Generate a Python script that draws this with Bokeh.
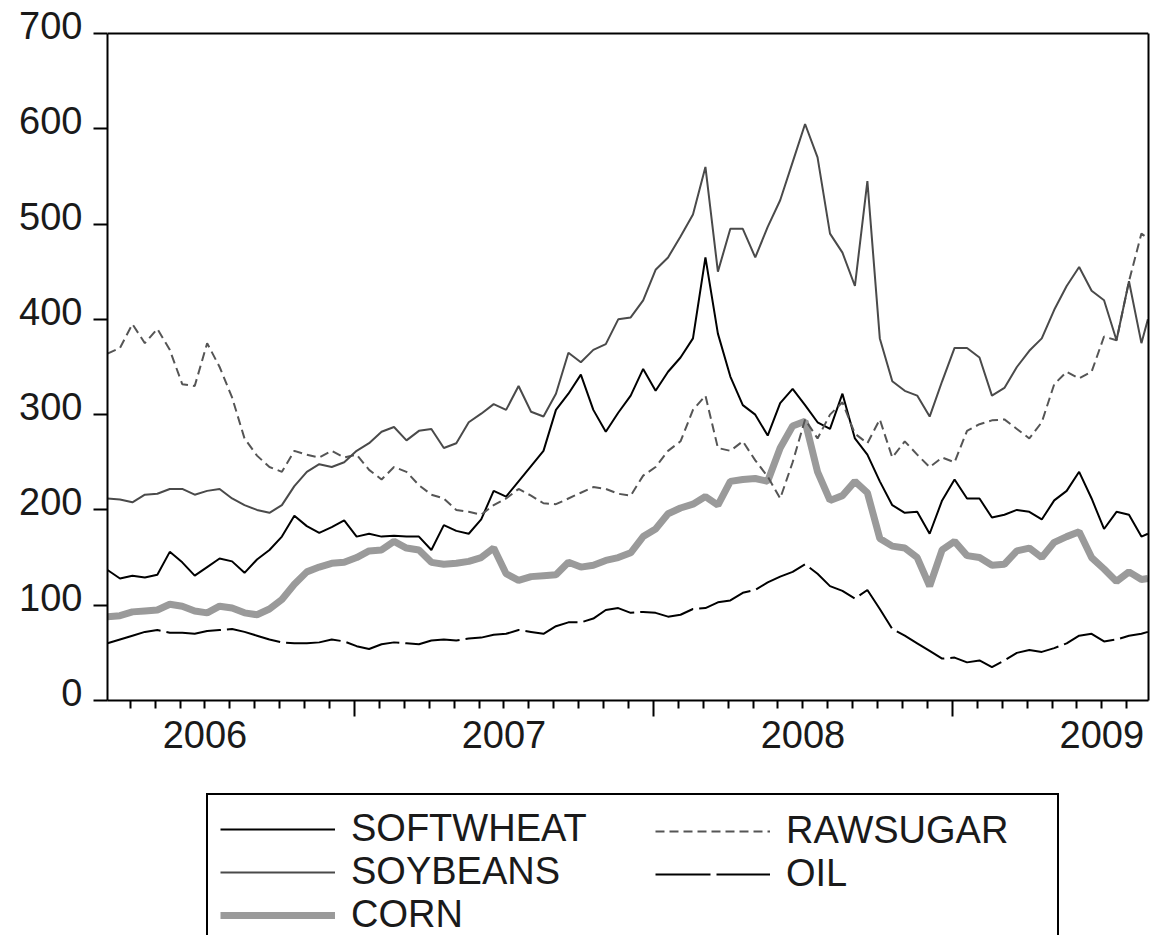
from bokeh.plotting import figure
from bokeh.layouts import column
from bokeh.models import Range1d, LinearAxis, FixedTicker, Legend, LegendItem, Span
from bokeh.embed import file_html
from bokeh.resources import INLINE

# ---------------- data (semi-monthly samples) ----------------
dates = [round(2006.174 + i / 24, 4) for i in range(84)] + [2009.654]

softwheat = [137, 128, 131, 129, 132, 156, 145, 131, 140, 149, 146, 134, 148, 158, 172, 194, 183, 176, 182, 189, 172, 175,
             172, 173, 172, 172, 158, 184, 178, 175, 190, 220, 214, 230, 246, 262, 305, 322, 342, 305, 282, 302, 320,
             348, 325, 345, 360, 380, 465, 385, 340, 310, 300, 278, 312, 327, 310, 292, 285, 322, 275, 258, 230, 205,
             197, 198, 175, 210, 232, 212, 212, 192, 195, 200, 198, 190, 210, 220, 240, 212, 180, 198, 195, 172, 175]

rawsugar = [364, 370, 395, 375, 390, 368, 332, 330, 375, 350, 318, 275, 257, 245, 240, 262, 258, 255, 262, 255, 258, 242,
            232, 245, 240, 226, 216, 212, 200, 198, 195, 205, 212, 222, 215, 207, 206, 212, 218, 224, 222, 217, 215,
            236, 245, 262, 272, 305, 320, 265, 262, 272, 252, 235, 212, 250, 295, 275, 300, 313, 280, 270, 295, 255,
            272, 258, 245, 255, 250, 283, 290, 294, 295, 285, 275, 292, 332, 345, 338, 345, 382, 378, 440, 490, 485]

soybeans = [212, 211, 208, 216, 217, 222, 222, 216, 220, 222, 212, 205, 200, 197, 205, 225, 240, 248, 245, 250, 262, 270,
            282, 287, 273, 283, 285, 265, 270, 292, 301, 311, 305, 330, 303, 298, 322, 365, 355, 368, 374, 400, 402,
            420, 452, 465, 487, 510, 560, 450, 495, 495, 465, 497, 525, 565, 605, 570, 490, 470, 435, 545, 380, 335,
            325, 320, 298, 335, 370, 370, 360, 320, 328, 350, 367, 380, 410, 435, 455, 430, 420, 378, 440, 375, 400]

oil = [60, 64, 68, 72, 74, 71, 71, 70, 73, 74, 75, 72, 68, 64, 61, 60, 60, 61, 64, 62, 57, 54,
       59, 61, 60, 59, 63, 64, 63, 65, 66, 69, 70, 74, 72, 70, 78, 82, 82, 86, 95, 97, 92,
       93, 92, 88, 90, 96, 97, 103, 105, 113, 116, 124, 130, 135, 143, 133, 120, 115, 107, 116, 96, 75,
       68, 60, 52, 44, 45, 40, 42, 35, 42, 50, 53, 51, 55, 60, 68, 70, 62, 64, 68, 70, 72]

corn = [88, 89, 93, 94, 95, 101, 99, 94, 92, 99, 97, 92, 90, 96, 106, 122, 135, 140, 144, 145, 150, 157,
        158, 167, 160, 158, 145, 143, 144, 146, 150, 160, 133, 126, 130, 131, 132, 145, 140, 142, 147, 150, 155,
        172, 180, 196, 202, 206, 214, 205, 230, 232, 233, 230, 265, 288, 293, 240, 210, 215, 230, 218, 170, 162,
        160, 150, 120, 158, 167, 152, 150, 142, 143, 157, 160, 150, 166, 172, 177, 150, 138, 125, 135, 127, 128]

y_ticks = [0, 100, 200, 300, 400, 500, 600, 700]
y_labels = ["0", "100", "200", "300", "400", "500", "600", "700"]
year_ticks = [2007, 2008, 2009]
month_ticks = [round(2006 + m / 12, 4) for m in range(3, 44) if m % 12 != 0]
year_label_pos = [2006.5, 2007.5, 2008.5, 2009.5]
year_labels = ["2006", "2007", "2008", "2009"]

FONT = "Liberation Sans"
FS = "38px"
TXT = "#1a1a1a"

# ---------------- main chart ----------------
# The frame reaches a little above the 700 line so the raised tick labels have room;
# the visible box is drawn by the axes (bounded to 0..700) and a span at 700.
Y_TOP = 712.59
p = figure(width=1154, height=770, output_backend="svg", toolbar_location=None,
           x_range=Range1d(2006.174, 2009.656), y_range=Range1d(0, Y_TOP),
           x_axis_type=None, y_axis_type=None,
           min_border_left=107, min_border_top=21, min_border_right=6, min_border_bottom=70)
p.background_fill_color = "white"
p.border_fill_color = "white"
p.outline_line_color = None
p.xgrid.visible = False
p.ygrid.visible = False

yaxis = LinearAxis(ticker=FixedTicker(ticks=y_ticks, minor_ticks=[]), bounds=(0, 700),
                   axis_line_color="black", axis_line_width=2,
                   major_tick_line_color="black", major_tick_line_width=2,
                   major_tick_out=14, major_tick_in=0,
                   minor_tick_line_color=None,
                   major_label_text_font_size="1px", major_label_text_color=None,
                   major_label_standoff=0)
p.add_layout(yaxis, "left")

SHIFT = 8.4  # value units (~8 px): tick labels sit slightly above their ticks, as in the original
p.extra_y_ranges = {"lab": Range1d(-SHIFT, Y_TOP - SHIFT)}
ylab = LinearAxis(y_range_name="lab", ticker=FixedTicker(ticks=y_ticks, minor_ticks=[]),
                  major_label_overrides=dict(zip(y_ticks, y_labels)),
                  axis_line_color=None, major_tick_line_color=None, minor_tick_line_color=None,
                  major_tick_out=0, major_tick_in=0, minor_tick_out=0, minor_tick_in=0,
                  major_label_text_font=FONT, major_label_text_font_size=FS,
                  major_label_text_color=TXT, major_label_standoff=11)
p.add_layout(ylab, "left")

right_edge = LinearAxis(ticker=FixedTicker(ticks=[], minor_ticks=[]), bounds=(0, 700),
                        axis_line_color="black", axis_line_width=2,
                        major_tick_line_color=None, minor_tick_line_color=None,
                        major_tick_out=0, major_tick_in=0, minor_tick_out=0, minor_tick_in=0,
                        major_label_text_font_size="1px", major_label_text_color=None,
                        major_label_standoff=0)
p.add_layout(right_edge, "right")
p.add_layout(Span(location=700, dimension="width", line_color="black", line_width=2))

# year boundaries (long ticks) + monthly minor ticks, labels hidden
xaxis = LinearAxis(ticker=FixedTicker(ticks=year_ticks, minor_ticks=month_ticks),
                   axis_line_color="black", axis_line_width=2,
                   major_tick_line_color="black", major_tick_line_width=2,
                   major_tick_out=16, major_tick_in=0,
                   minor_tick_line_color="black", minor_tick_line_width=2,
                   minor_tick_out=8, minor_tick_in=0,
                   major_label_text_font_size="1px", major_label_text_color=None,
                   major_label_standoff=0)
p.add_layout(xaxis, "below")

# year labels centred on each year
xlab = LinearAxis(ticker=FixedTicker(ticks=year_label_pos, minor_ticks=[]),
                  major_label_overrides=dict(zip(year_label_pos, year_labels)),
                  axis_line_color=None, major_tick_line_color=None, minor_tick_line_color=None,
                  major_tick_out=0, major_tick_in=0, minor_tick_out=0, minor_tick_in=0,
                  major_label_text_font=FONT, major_label_text_font_size=FS,
                  major_label_text_color=TXT, major_label_standoff=4)
p.add_layout(xlab, "below")

sty_corn = dict(line_color="#9a9a9a", line_width=7)
sty_wheat = dict(line_color="black", line_width=2)
sty_sugar = dict(line_color="#555555", line_width=2, line_dash="9 5")
sty_soy = dict(line_color="#4a4a4a", line_width=2)
sty_oil = dict(line_color="black", line_width=2, line_dash="55 6")

p.line(dates, corn, **sty_corn)
p.line(dates, softwheat, **sty_wheat)
p.line(dates, rawsugar, **sty_sugar)
p.line(dates, soybeans, **sty_soy)
p.line(dates, oil, **sty_oil)

# ---------------- legend strip (its frame is aligned with the chart frame: x 107..1148) ----------------
LH = 165
lg = figure(width=1154, height=LH, output_backend="svg", toolbar_location=None,
            x_range=Range1d(0, 1), y_range=Range1d(0, 1),
            x_axis_type=None, y_axis_type=None, min_border=0)
lg.outline_line_color = None
lg.background_fill_color = "white"
lg.border_fill_color = "white"
lg.xgrid.visible = False
lg.ygrid.visible = False

# one-point proxies (draw nothing themselves) that carry each series' style into the key
k_corn = lg.line([0.5], [0.5], **sty_corn)
k_wheat = lg.line([0.5], [0.5], **sty_wheat)
k_sugar = lg.line([0.5], [0.5], **sty_sugar)
k_soy = lg.line([0.5], [0.5], **sty_soy)
k_oil = lg.line([0.5], [0.5], **sty_oil)

common = dict(label_text_font=FONT, label_text_font_size=FS, label_text_color=TXT,
              glyph_width=115, glyph_height=20, label_standoff=16, spacing=0, margin=0)
ITEM_H = 43
PAD = 12
TOP = 27
FRAME_L = 107
legA = Legend(items=[LegendItem(label="SOFTWHEAT", renderers=[k_wheat]),
                     LegendItem(label="SOYBEANS", renderers=[k_soy]),
                     LegendItem(label="CORN", renderers=[k_corn])],
              location=(206 - FRAME_L, LH - TOP - (2 * PAD + 3 * ITEM_H)), padding=PAD, label_width=694,
              border_line_color="black", border_line_width=2, border_line_alpha=1.0,
              background_fill_color="white", background_fill_alpha=1.0, **common)
legB = Legend(items=[LegendItem(label="RAWSUGAR", renderers=[k_sugar]),
                     LegendItem(label="OIL", renderers=[k_oil])],
              location=(655 - FRAME_L, LH - TOP - PAD - 2 * ITEM_H), padding=0,
              border_line_color=None, background_fill_alpha=0.0, **common)
lg.add_layout(legA, "center")
lg.add_layout(legB, "center")

layout = column(p, lg, spacing=0)
open("out.html", "w").write(file_html(layout, INLINE))
